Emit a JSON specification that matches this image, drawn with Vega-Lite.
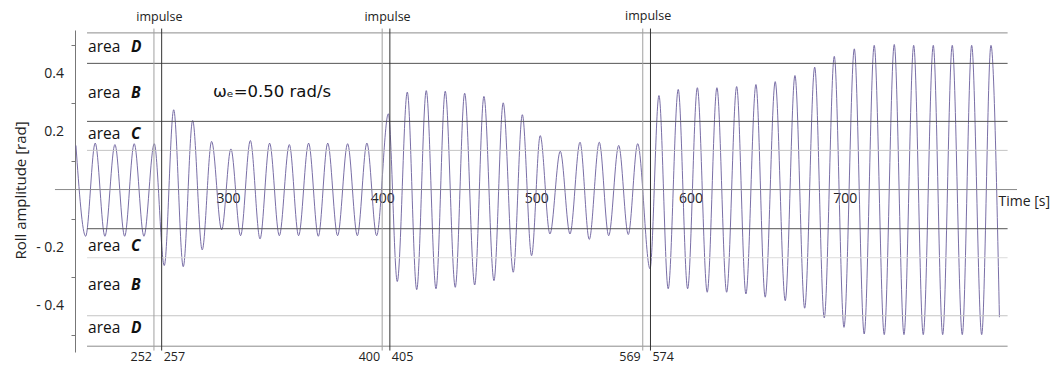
{
  "$schema": "https://vega.github.io/schema/vega-lite/v6.json",
  "width": 942,
  "height": 322,
  "autosize": {"type": "none"},
  "padding": {"left": 75, "top": 30, "right": 40, "bottom": 15},
  "background": "white",
  "config": {"view": {"stroke": null}, "font": "Open Sans"},
  "datasets": {
    "roll": [
      {"t": 201.4, "v": 0.152}, {"t": 207.7, "v": -0.161}, {"t": 213.9, "v": 0.160}, {"t": 220.2, "v": -0.161},
      {"t": 226.7, "v": 0.155}, {"t": 233.0, "v": -0.161}, {"t": 239.2, "v": 0.158}, {"t": 245.5, "v": -0.161},
      {"t": 252.2, "v": 0.158}, {"t": 258.7, "v": -0.262}, {"t": 264.8, "v": 0.275}, {"t": 271.0, "v": -0.266},
      {"t": 277.1, "v": 0.238}, {"t": 283.3, "v": -0.208}, {"t": 289.4, "v": 0.166}, {"t": 295.9, "v": -0.139},
      {"t": 301.9, "v": 0.140}, {"t": 308.2, "v": -0.159}, {"t": 314.5, "v": 0.169}, {"t": 320.8, "v": -0.170},
      {"t": 327.0, "v": 0.160}, {"t": 333.3, "v": -0.159}, {"t": 339.8, "v": 0.155}, {"t": 345.8, "v": -0.159},
      {"t": 352.3, "v": 0.160}, {"t": 358.6, "v": -0.161}, {"t": 364.7, "v": 0.160}, {"t": 371.1, "v": -0.159},
      {"t": 377.6, "v": 0.158}, {"t": 383.9, "v": -0.159}, {"t": 390.1, "v": 0.160}, {"t": 396.4, "v": -0.159},
      {"t": 404.0, "v": 0.261}, {"t": 409.8, "v": -0.317}, {"t": 416.3, "v": 0.336}, {"t": 422.4, "v": -0.345},
      {"t": 428.6, "v": 0.341}, {"t": 434.9, "v": -0.342}, {"t": 440.9, "v": 0.339}, {"t": 447.4, "v": -0.337},
      {"t": 453.5, "v": 0.332}, {"t": 460.0, "v": -0.329}, {"t": 466.0, "v": 0.321}, {"t": 472.5, "v": -0.314},
      {"t": 478.5, "v": 0.299}, {"t": 485.0, "v": -0.285}, {"t": 490.9, "v": 0.258}, {"t": 496.9, "v": -0.228},
      {"t": 502.5, "v": 0.186}, {"t": 508.8, "v": -0.153}, {"t": 515.5, "v": 0.132}, {"t": 521.8, "v": -0.153},
      {"t": 528.3, "v": 0.163}, {"t": 534.3, "v": -0.172}, {"t": 540.8, "v": 0.163}, {"t": 546.9, "v": -0.159},
      {"t": 553.4, "v": 0.152}, {"t": 559.6, "v": -0.155}, {"t": 565.7, "v": 0.158}, {"t": 573.7, "v": -0.273},
      {"t": 579.5, "v": 0.324}, {"t": 585.5, "v": -0.342}, {"t": 592.0, "v": 0.345}, {"t": 598.1, "v": -0.342},
      {"t": 604.4, "v": 0.351}, {"t": 610.8, "v": -0.354}, {"t": 617.1, "v": 0.351}, {"t": 623.4, "v": -0.354},
      {"t": 629.9, "v": 0.355}, {"t": 635.9, "v": -0.360}, {"t": 642.4, "v": 0.362}, {"t": 648.4, "v": -0.371},
      {"t": 654.9, "v": 0.372}, {"t": 661.4, "v": -0.383}, {"t": 667.7, "v": 0.393}, {"t": 674.0, "v": -0.409},
      {"t": 680.5, "v": 0.422}, {"t": 686.7, "v": -0.442}, {"t": 693.2, "v": 0.459}, {"t": 699.5, "v": -0.475},
      {"t": 706.2, "v": 0.485}, {"t": 712.6, "v": -0.498}, {"t": 719.1, "v": 0.497}, {"t": 725.6, "v": -0.500},
      {"t": 732.1, "v": 0.500}, {"t": 738.4, "v": -0.500}, {"t": 744.7, "v": 0.497}, {"t": 750.9, "v": -0.500},
      {"t": 757.4, "v": 0.497}, {"t": 763.5, "v": -0.500}, {"t": 769.7, "v": 0.497}, {"t": 776.2, "v": -0.500},
      {"t": 782.3, "v": 0.497}, {"t": 788.8, "v": -0.500}, {"t": 794.8, "v": 0.497}, {"t": 800.3, "v": -0.440}
    ],
    "levels": [
      {"level": 0.54, "kind": "mid", "t0": 208.6, "t1": 805.6},
      {"level": 0.435, "kind": "dark", "t0": 208.6, "t1": 805.6},
      {"level": 0.235, "kind": "dark", "t0": 208.6, "t1": 805.6},
      {"level": 0.135, "kind": "light", "t0": 208.6, "t1": 805.6},
      {"level": -0.135, "kind": "dark", "t0": 208.6, "t1": 805.6},
      {"level": -0.235, "kind": "faint", "t0": 208.6, "t1": 805.6},
      {"level": -0.435, "kind": "light", "t0": 208.6, "t1": 805.6},
      {"level": -0.54, "kind": "mid", "t0": 208.6, "t1": 805.6}
    ],
    "zero": [{"t0": 187.8, "t1": 811.7, "v": 0}],
    "ylabels": [
      {"v": 0.4, "label": "0.4"},
      {"v": 0.2, "label": "0.2"},
      {"v": -0.2, "label": "- 0.2"},
      {"v": -0.4, "label": "- 0.4"}
    ],
    "impulses": [
      {"t": 252, "label": "252", "kind": "start", "top": 0.555, "bottom": -0.555},
      {"t": 257, "label": "257", "kind": "end", "top": 0.555, "bottom": -0.555},
      {"t": 400, "label": "400", "kind": "start", "top": 0.555, "bottom": -0.555},
      {"t": 405, "label": "405", "kind": "end", "top": 0.555, "bottom": -0.555},
      {"t": 569, "label": "569", "kind": "start", "top": 0.555, "bottom": -0.555},
      {"t": 574, "label": "574", "kind": "end", "top": 0.555, "bottom": -0.555}
    ],
    "impulseTitles": [
      {"t": 255.5, "v": 0.595, "label": "impulse"},
      {"t": 403.5, "v": 0.595, "label": "impulse"},
      {"t": 572.5, "v": 0.597, "label": "impulse"}
    ],
    "areas": [
      {"t": 209.3, "v": 0.49, "word": "area", "letter": "D"},
      {"t": 209.3, "v": 0.334, "word": "area", "letter": "B"},
      {"t": 209.3, "v": 0.19, "word": "area", "letter": "C"},
      {"t": 209.3, "v": -0.193, "word": "area", "letter": "C"},
      {"t": 209.3, "v": -0.328, "word": "area", "letter": "B"},
      {"t": 209.3, "v": -0.476, "word": "area", "letter": "D"}
    ],
    "notes": [{"t": 290.3, "v": 0.335, "label": "ωₑ=0.50 rad/s"}]
  },
  "layer": [
    {
      "data": {"name": "roll"},
      "mark": {"type": "line", "interpolate": "monotone", "color": "#6a5e9c", "strokeWidth": 0.9},
      "encoding": {
        "x": {"field": "t", "type": "quantitative", "title": "Time [s]",
          "scale": {"domain": [200.8, 811.7], "nice": false, "zero": false},
          "axis": {"orient": "bottom", "offset": -162.5, "values": [300, 400, 500, 600, 700], "domain": false, "ticks": false, "grid": false,
            "labelFont": "Open Sans", "labelFontSize": 14, "labelColor": "#222", "labelPadding": 2,
            "title": "Time [s]", "titleFont": "Open Sans", "titleFontSize": 14, "titleFontWeight": "normal", "titleColor": "#222",
            "titleX": 923, "titleY": 12, "titleAlign": "left", "titleBaseline": "middle", "titleAngle": 0}},
        "y": {"field": "v", "type": "quantitative", "title": "Roll amplitude [rad]",
          "scale": {"domain": [-0.56, 0.55], "nice": false, "zero": false},
          "axis": {"orient": "left", "values": [-0.5, -0.4, -0.3, -0.2, -0.1, 0, 0.1, 0.2, 0.3, 0.4, 0.5],
            "labels": false, "grid": false, "domainColor": "#777777", "tickColor": "#777777", "tickSize": 4,
            "title": "Roll amplitude [rad]", "titleFont": "Open Sans", "titleFontSize": 15, "titleFontWeight": "normal", "titleColor": "#222",
            "titleX": -55, "titleY": 160, "titleAngle": -90, "titleAlign": "center", "titleBaseline": "middle"}}
      }
    },
    {
      "data": {"name": "levels"},
      "mark": {"type": "rule", "strokeWidth": 1},
      "encoding": {
        "x": {"field": "t0", "type": "quantitative", "title": "Time [s]"},
        "x2": {"field": "t1"},
        "y": {"field": "level", "type": "quantitative", "title": "Roll amplitude [rad]"},
        "color": {"field": "kind", "type": "nominal", "legend": null,
          "scale": {"domain": ["dark", "mid", "light", "faint"], "range": ["#555555", "#8c8c8c", "#c4c4c4", "#dcdcdc"]}}
      }
    },
    {
      "data": {"name": "zero"},
      "mark": {"type": "rule", "color": "#8a8a8a", "strokeWidth": 1},
      "encoding": {
        "x": {"field": "t0", "type": "quantitative", "title": "Time [s]"},
        "x2": {"field": "t1"},
        "y": {"field": "v", "type": "quantitative", "title": "Roll amplitude [rad]"}
      }
    },
    {
      "data": {"name": "ylabels"},
      "mark": {"type": "text", "font": "Open Sans", "fontSize": 14, "color": "#222", "align": "right", "baseline": "middle", "dx": -11},
      "encoding": {
        "x": {"datum": 200.8, "type": "quantitative", "title": "Time [s]"},
        "y": {"field": "v", "type": "quantitative", "title": "Roll amplitude [rad]"},
        "text": {"field": "label"}
      }
    },
    {
      "data": {"name": "impulses"},
      "mark": {"type": "rule", "strokeWidth": 1},
      "encoding": {
        "x": {"field": "t", "type": "quantitative", "title": "Time [s]"},
        "y": {"field": "top", "type": "quantitative", "title": "Roll amplitude [rad]"},
        "y2": {"field": "bottom"},
        "stroke": {"field": "kind", "type": "nominal", "legend": null,
          "scale": {"domain": ["start", "end"], "range": ["#a0a0a0", "#333333"]}}
      }
    },
    {
      "data": {"name": "impulseTitles"},
      "mark": {"type": "text", "font": "Open Sans", "fontSize": 12.5, "color": "#222", "align": "center", "baseline": "middle"},
      "encoding": {
        "x": {"field": "t", "type": "quantitative", "title": "Time [s]"},
        "y": {"field": "v", "type": "quantitative", "title": "Roll amplitude [rad]"},
        "text": {"field": "label"}
      }
    },
    {
      "data": {"name": "impulses"},
      "transform": [{"filter": "datum.kind == 'start'"}],
      "mark": {"type": "text", "font": "Open Sans", "fontSize": 12.5, "color": "#222", "align": "right", "baseline": "middle", "dx": -2},
      "encoding": {
        "x": {"field": "t", "type": "quantitative", "title": "Time [s]"},
        "y": {"datum": -0.578, "type": "quantitative", "title": "Roll amplitude [rad]"},
        "text": {"field": "label"}
      }
    },
    {
      "data": {"name": "impulses"},
      "transform": [{"filter": "datum.kind == 'end'"}],
      "mark": {"type": "text", "font": "Open Sans", "fontSize": 12.5, "color": "#222", "align": "left", "baseline": "middle", "dx": 2},
      "encoding": {
        "x": {"field": "t", "type": "quantitative", "title": "Time [s]"},
        "y": {"datum": -0.578, "type": "quantitative", "title": "Roll amplitude [rad]"},
        "text": {"field": "label"}
      }
    },
    {
      "data": {"name": "areas"},
      "mark": {"type": "text", "font": "Open Sans", "fontSize": 15.5, "color": "#111", "align": "left", "baseline": "middle"},
      "encoding": {
        "x": {"field": "t", "type": "quantitative", "title": "Time [s]"},
        "y": {"field": "v", "type": "quantitative", "title": "Roll amplitude [rad]"},
        "text": {"field": "word"}
      }
    },
    {
      "data": {"name": "areas"},
      "mark": {"type": "text", "font": "Open Sans", "fontSize": 15.5, "fontWeight": "bold", "fontStyle": "italic", "color": "#111", "align": "left", "baseline": "middle", "dx": 43},
      "encoding": {
        "x": {"field": "t", "type": "quantitative", "title": "Time [s]"},
        "y": {"field": "v", "type": "quantitative", "title": "Roll amplitude [rad]"},
        "text": {"field": "letter"}
      }
    },
    {
      "data": {"name": "notes"},
      "mark": {"type": "text", "font": "DejaVu Sans", "fontSize": 16.5, "color": "#111", "align": "left", "baseline": "middle"},
      "encoding": {
        "x": {"field": "t", "type": "quantitative", "title": "Time [s]"},
        "y": {"field": "v", "type": "quantitative", "title": "Roll amplitude [rad]"},
        "text": {"field": "label"}
      }
    }
  ]
}
